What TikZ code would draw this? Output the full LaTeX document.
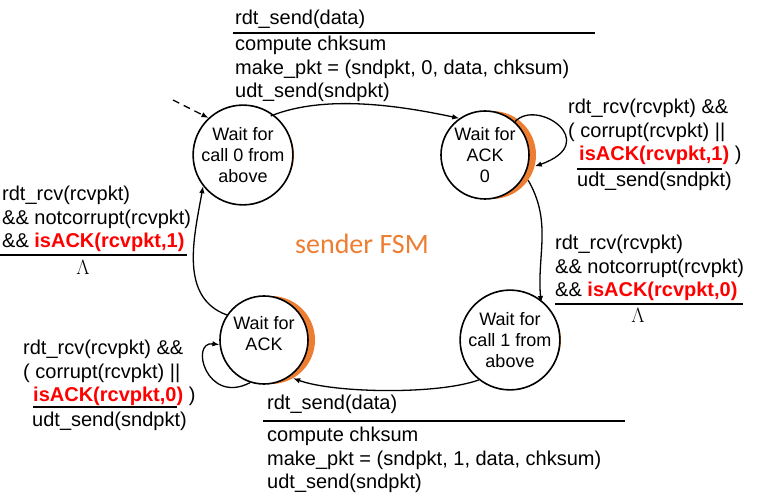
\documentclass[tikz,border=0pt]{standalone}
\usepackage{fontspec}
\setmainfont{Liberation Sans}
\newfontfamily\fsmfont{Carlito}
\usepackage{xcolor}
\usetikzlibrary{arrows.meta}
\definecolor{fsmorange}{HTML}{ED7D31}
\newcommand{\isack}[1]{\textcolor{red}{\textbf{isACK(rcvpkt,#1)}}}

\begin{document}
\begin{tikzpicture}[
  x=1pt, y=1pt,
  state/.style={draw, circle, line width=1.6pt, fill=white, minimum size=88pt, inner sep=0pt, align=center, font=\fontsize{18}{21}\selectfont},
  crescent/.style={circle, fill=fsmorange, minimum size=88pt, inner sep=0pt},
  lbl/.style={anchor=base west, inner sep=0pt, align=left, font=\fontsize{20}{23.5}\selectfont},
  arr/.style={-{Latex[length=7pt,width=5.5pt]}, line width=1.3pt},
  rule/.style={line width=2.6pt}
]
\useasboundingbox (0,0) rectangle (771,500);
% states
\node[crescent] (s0o) at (250,345) {};
\node[state] (s0) at (243,345) {Wait for\\call 0 from\\above};
\node[crescent] (s1o) at (492,345) {};
\node[state] (s1) at (485,345) {Wait for\\ACK\\0};
\node[crescent] (s2o) at (517,160) {};
\node[state] (s2) at (510,160) {Wait for\\call 1 from\\above};
\node[crescent] (s3o) at (271,160) {};
\node[state] (s3) at (264,160) {Wait for\\ACK\\[-8pt]\mbox{}};
\node[font=\fsmfont\fontsize{28}{30}\selectfont, text=fsmorange, anchor=base west, inner sep=0pt] (title) at (295,246) {sender FSM};

% transitions
\coordinate (init) at (173,400);
\draw[arr, dash pattern=on 7pt off 5pt] (init) -- (s0.133);
\draw[arr] (s0o.62) to[out=22,in=168,looseness=0.8] (s1.125);
\draw[arr] (s1.48) .. controls +(22,24) and +(68,24) .. (s1o.-15);
\draw[arr] (s1o.-35) to[out=-60,in=95] (s2o.57);
\draw[arr] (s2.-128) to[out=-160,in=-20,looseness=0.6] (s3o.-60);
\draw[arr] (s3.-108) .. controls +(-44,-23) and +(-30,4) .. (s3.-174);
\draw[arr] (s3.146) to[out=160,in=-100] (s0.-142);

% labels
\node[lbl] (evt0) at (235,475) {rdt\_send(data)};
\draw[rule] (233,467) -- (595,467);
\node[lbl] (act0) at (235,402) {compute chksum\\make\_pkt = (sndpkt, 0, data, chksum)\\udt\_send(sndpkt)};

\node[lbl] (loop1) at (568,339) {rdt\_rcv(rcvpkt) \&\&\\( corrupt(rcvpkt) ||\\\hspace*{11pt}\isack{1} )};
\draw[rule] (577,331) -- (722,331);
\node[lbl] (resend1) at (577,313) {udt\_send(sndpkt)};

\node[lbl] (ok1) at (2,252) {rdt\_rcv(rcvpkt)\\\&\& notcorrupt(rcvpkt)\\\&\& \isack{1}};
\draw[rule] (0,245) -- (187,245);
\node[lbl, anchor=base] (lam1) at (83,225) {$\Lambda$};

\node[lbl] (ok0) at (555,203) {rdt\_rcv(rcvpkt)\\\&\& notcorrupt(rcvpkt)\\\&\& \isack{0}};
\draw[rule] (555,196) -- (743,196);
\node[lbl, anchor=base] (lam0) at (638,177) {$\Lambda$};

\node[lbl] (loop0) at (23,98) {rdt\_rcv(rcvpkt) \&\&\\( corrupt(rcvpkt) ||\\\hspace*{10pt}\isack{0} )};
\draw[rule] (33,93) -- (177,93);
\node[lbl] (resend0) at (32,73) {udt\_send(sndpkt)};

\node[lbl] (evt1) at (267,90) {rdt\_send(data)};
\draw[rule] (263,79) -- (625,79);
\node[lbl] (act1) at (267,11) {compute chksum\\make\_pkt = (sndpkt, 1, data, chksum)\\udt\_send(sndpkt)};
\end{tikzpicture}
\end{document}
